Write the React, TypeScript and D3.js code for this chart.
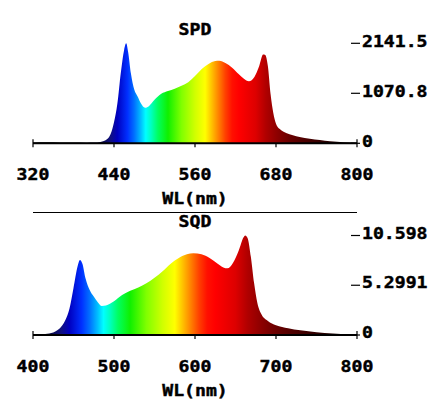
import React from "react";
import * as d3 from "d3";

// ---- Data ----
const spdWl = [320, 340, 360, 380, 400, 410, 420, 430, 435, 440, 445, 450, 455, 458, 461, 465, 470, 475, 480, 486, 492, 500, 510, 520, 530, 540, 550, 560, 570, 580, 590, 596, 605, 615, 625, 632, 640, 648, 655, 661, 664, 668, 672, 676, 680, 686, 695, 705, 715, 730, 745, 760, 780, 800];
const spdVal = [15, 20, 18, 15, 12, 15, 30, 90, 200, 450, 850, 1500, 2000, 2141.5, 1950, 1500, 1150, 1000, 850, 760, 800, 930, 1060, 1120, 1170, 1230, 1310, 1440, 1590, 1700, 1760, 1770, 1720, 1620, 1480, 1390, 1330, 1420, 1650, 1900, 1890, 1650, 1050, 650, 420, 300, 220, 170, 135, 100, 70, 45, 25, 10];
const spdXTicks = [320, 440, 560, 680, 800];
const spdYTicks = [0, 1070.8, 2141.5];
const spdYLabels = ["0", "1070.8", "2141.5"];

const sqdWl = [400, 410, 420, 430, 435, 440, 445, 450, 455, 458, 461, 465, 470, 475, 480, 485, 490, 500, 510, 520, 530, 540, 550, 560, 570, 580, 590, 598, 608, 618, 628, 635, 640, 647, 654, 660, 662, 665, 669, 673, 677, 682, 690, 700, 715, 730, 750, 770, 800];
const sqdVal = [0.03, 0.06, 0.15, 0.5, 0.9, 1.6, 2.8, 5.0, 7.3, 8.0, 7.6, 6.0, 4.8, 4.1, 3.5, 3.1, 3.15, 3.6, 4.25, 4.7, 5.05, 5.5, 6.1, 6.8, 7.6, 8.2, 8.6, 8.7, 8.6, 8.2, 7.6, 7.2, 7.1, 7.7, 9.0, 10.4, 10.598, 10.3, 8.3, 5.5, 3.4, 2.2, 1.5, 1.05, 0.72, 0.5, 0.3, 0.17, 0.05];
const sqdXTicks = [400, 500, 600, 700, 800];
const sqdYTicks = [0, 5.2991, 10.598];
const sqdYLabels = ["0", "5.2991", "10.598"];

// wavelength -> colour map for the spectral fill
const colorWl = [380, 420, 435, 445, 460, 470, 480, 487, 495, 505, 520, 540, 560, 575, 585, 595, 605, 615, 625, 650, 665, 680, 700, 720, 750, 780, 800];
const colorHex = ["#000000", "#0a0a40", "#101080", "#0000c0", "#0030ff", "#0070ff", "#00c0ff", "#00ffff", "#00ffc0", "#00ff60", "#10f000", "#80ff00", "#d0ff00", "#ffff00", "#ffc000", "#ff8000", "#ff4000", "#ff1000", "#ff0000", "#dd0000", "#b00000", "#900000", "#6a0000", "#500000", "#300000", "#150000", "#000000"];

const FONT = "'DejaVu Sans Mono', monospace";
const SX = 1.1;

function Label({ x, y, text, anchor = "middle" }: { x: number; y: number; text: string; anchor?: string }) {
  return (
    <text
      transform={`translate(${x},${y}) scale(${SX},1)`}
      textAnchor={anchor as any}
      dominantBaseline="central"
      fontFamily={FONT}
      fontWeight="bold"
      fontSize={16.5}
      fill="#000"
      stroke="#000"
      strokeWidth={0.45}
    >
      {text}
    </text>
  );
}

function Panel({
  id, wl, val, xTicks, yTicks, yLabels, title, yBase, yTop, titleY, titleBg,
}: {
  id: string; wl: number[]; val: number[]; xTicks: number[]; yTicks: number[]; yLabels: string[];
  title: string; yBase: number; yTop: number; titleY: number; titleBg?: boolean;
}) {
  const x = d3.scaleLinear().domain([xTicks[0], xTicks[xTicks.length - 1]]).range([33, 357]);
  const y = d3.scaleLinear().domain([0, yTicks[yTicks.length - 1]]).range([yBase, yTop]);
  const pts = wl.map((w, i) => [w, val[i]] as [number, number]);
  const area = d3.area<[number, number]>()
    .x((d) => x(d[0]))
    .y0(y(0))
    .y1((d) => y(d[1]))
    .curve(d3.curveMonotoneX);
  const c0 = colorWl[0];
  const c1 = colorWl[colorWl.length - 1];
  return (
    <g>
      <defs>
        <linearGradient id={id} gradientUnits="userSpaceOnUse" x1={x(c0)} x2={x(c1)} y1={0} y2={0}>
          {colorWl.map((w, i) => (
            <stop key={i} offset={(w - c0) / (c1 - c0)} stopColor={colorHex[i]} />
          ))}
        </linearGradient>
      </defs>
      <path d={area(pts) || ""} fill={`url(#${id})`} />
      {/* x axis */}
      <line x1={x.range()[0]} x2={x.range()[1]} y1={y(0)} y2={y(0)} stroke="#000" strokeWidth={2} />
      {xTicks.map((t, i) => {
        const end = i === 0 || i === xTicks.length - 1;
        return (
          <g key={t}>
            <line x1={x(t)} x2={x(t)} y1={y(0) + (end ? -4 : 0)} y2={y(0) + 4} stroke="#000" strokeWidth={1.2} />
            <Label x={x(t)} y={y(0) + 31} text={String(t)} />
          </g>
        );
      })}
      {/* y axis (right, no domain line) */}
      {yTicks.map((t, i) => (
        <g key={t}>
          <line x1={351} x2={360} y1={y(t)} y2={y(t)} stroke="#000" strokeWidth={1.2} />
          <Label x={362} y={y(t) - 2.5} text={yLabels[i]} anchor="start" />
        </g>
      ))}
      {titleBg && <rect x={176} y={titleY - 8} width={38} height={16} fill="#fff" />}
      <Label x={195} y={titleY} text={title} />
      <Label x={195} y={y(0) + 55} text="WL(nm)" />
    </g>
  );
}

export default function App() {
  return (
    <svg width={442} height={399} style={{ position: "absolute", left: 0, top: 0, background: "#fff" }}>
      <rect x={0} y={0} width={442} height={399} fill="#fff" />
      <Panel id="gSpd" wl={spdWl} val={spdVal} xTicks={spdXTicks} yTicks={spdYTicks} yLabels={spdYLabels}
        title="SPD" yBase={143.3} yTop={43.3} titleY={29.5} />
      <line x1={33} x2={357} y1={212.5} y2={212.5} stroke="#000" strokeWidth={1} />
      <Panel id="gSqd" wl={sqdWl} val={sqdVal} xTicks={sqdXTicks} yTicks={sqdYTicks} yLabels={sqdYLabels}
        title="SQD" yBase={335} yTop={235.5} titleY={221} titleBg />
    </svg>
  );
}
